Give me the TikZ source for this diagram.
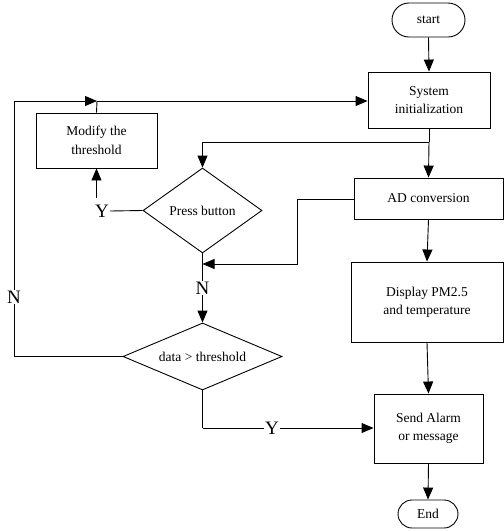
\documentclass[tikz,border=0pt]{standalone}
\usepackage{fontspec}
\setmainfont{Liberation Serif}
\usetikzlibrary{arrows.meta,shapes.geometric}
\begin{document}
\begin{tikzpicture}[x=1pt,y=-1pt,
  every node/.style={font=\fontsize{13.5}{18.5}\selectfont, inner sep=0pt, align=center},
  proc/.style={draw, line width=0.9pt, rectangle},
  term/.style={draw, line width=0.9pt, rectangle, rounded corners=13pt},
  dec/.style={draw, line width=0.9pt, diamond},
  yn/.style={font=\fontsize{19}{19}\selectfont, fill=white, inner sep=1pt},
  conn/.style={line width=0.9pt},
  arr/.style={line width=0.9pt, -{Triangle[length=12pt,width=10pt]}}]
\useasboundingbox (0,0) rectangle (504,531);
% nodes
\node[term, minimum width=73pt, minimum height=34pt, rounded corners=17pt] (start) at (428.5,20) {start};
\node[proc, minimum width=122pt, minimum height=56pt] (init) at (429,100) {System\\initialization};
\node[proc, minimum width=149pt, minimum height=41pt] (ad) at (428.5,198.5) {AD conversion};
\node[proc, minimum width=152pt, minimum height=80pt] (disp) at (427,302) {Display PM2.5\\and temperature};
\node[proc, minimum width=109pt, minimum height=69pt] (alarm) at (428.5,428.5) {Send Alarm\\or message};
\node[term, minimum width=60pt, minimum height=28pt, rounded corners=14pt] (end) at (428,514) {End};
\node[proc, minimum width=121pt, minimum height=55pt] (mod) at (96.5,140.5) {Modify the\\threshold};
\node[dec, minimum width=119pt, minimum height=85pt, aspect=1.4] (press) at (202.5,210.5) {Press button};
\node[dec, minimum width=159pt, minimum height=67pt, aspect=2.37] (data) at (202.5,356.5) {data > threshold};
% coordinates
\coordinate (j1) at (429,142);
\coordinate (j2) at (202.5,264);
\coordinate (lb) at (14,356.5);
\coordinate (lt) at (14,101);
\coordinate (mt) at (97,101);
\coordinate (adl) at (297,199);
\coordinate (yb) at (202.5,428);
% connectors
\draw[arr] (start.south) -- (init.north);
\draw[conn] (init.south) -- (j1);
\draw[arr] (j1) -- (ad.north);
\draw[arr] (j1) -| (press.north);
\node[yn] (ylab) at (102,211) {Y};
\draw[conn] (press.west) -- (ylab.east);
\draw[arr] (mod.south |- 0,198) -- (mod.south);
\draw[conn] (mod.north) -- (mt);
\draw[conn] (data.west) -- (lb) -- (lt);
\draw[arr] (lt) -- (mt);
\draw[arr] (mt) -- (init.west |- mt);
\node[yn] (nl) at (14,297) {N};
\draw[conn] (ad.west |- adl) -- (adl);
\draw[arr] (adl) |- (j2);
\draw[arr] (press.south) -- (data.north);
\node[yn] (nm) at (202.5,288) {N};
\draw[arr] (ad.south) -- (disp.north);
\draw[arr] (disp.south) -- (alarm.north);
\draw[arr] (alarm.south) -- (end.north);
\draw[conn] (data.south) -- (yb);
\draw[arr] (yb) -- (alarm.west |- yb);
\node[yn] (yl2) at (272,428) {Y};
\end{tikzpicture}
\end{document}
